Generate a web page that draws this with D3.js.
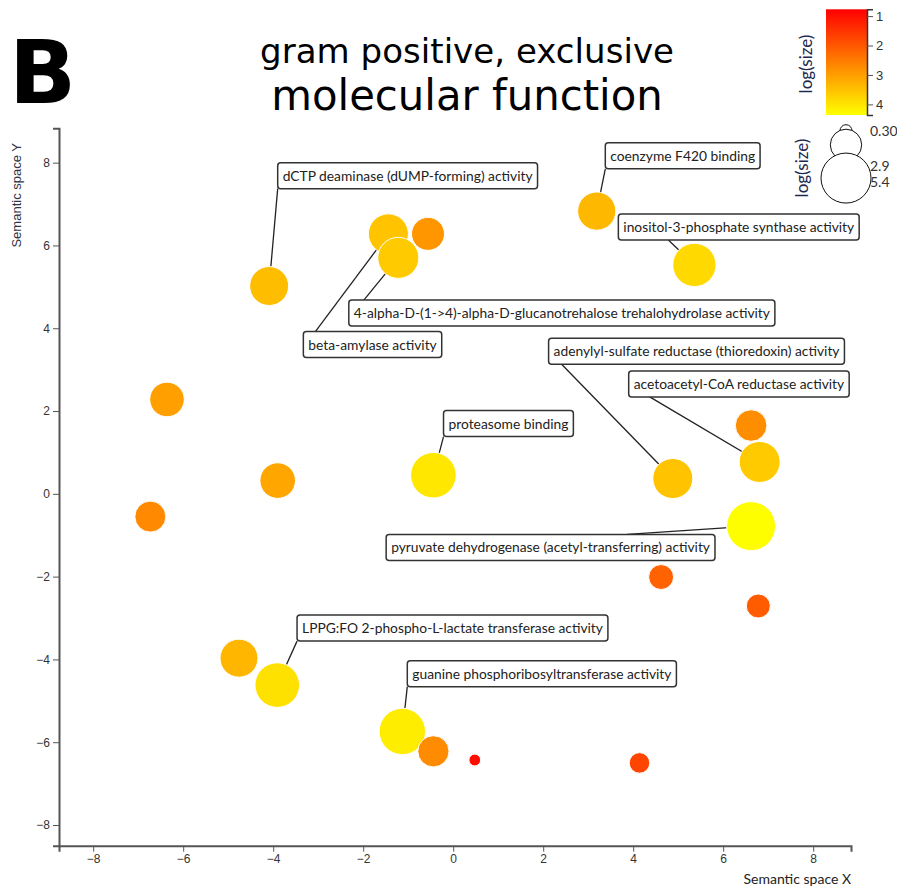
<!DOCTYPE html>
<html>
<head>
<meta charset="utf-8">
<script src="https://cdn.jsdelivr.net/npm/d3@7/dist/d3.min.js"></script>
<style>
  body { margin: 0; background: #fff; }
  .axis path, .axis line { stroke: #555; }
  .axis text { font-family: "Liberation Sans", Arial, sans-serif; font-size: 12px; fill: #333; }
</style>
</head>
<body>
<svg id="chart" width="897" height="887"></svg>
<script>
// DATA
const terms = [
  "dCTP deaminase (dUMP-forming) activity",
  "beta-amylase activity",
  null,
  "4-alpha-D-(1->4)-alpha-D-glucanotrehalose trehalohydrolase activity",
  "coenzyme F420 binding",
  "inositol-3-phosphate synthase activity",
  "adenylyl-sulfate reductase (thioredoxin) activity",
  null,
  "acetoacetyl-CoA reductase activity",
  "pyruvate dehydrogenase (acetyl-transferring) activity",
  "proteasome binding",
  null, null, null, null, null,
  "LPPG:FO 2-phospho-L-lactate transferase activity",
  null,
  "guanine phosphoribosyltransferase activity",
  null, null, null
];
const semX    = [-4.09, -1.44, -0.56, -1.22, 3.19, 5.36, 4.88, 6.62, 6.81, 6.62, -0.44, -6.36, -3.90, -6.73, 4.62, 6.78, -3.91, -4.76, -1.13, -0.44, 0.48, 4.14];
const semY    = [5.02, 6.28, 6.28, 5.70, 6.83, 5.53, 0.37, 1.65, 0.77, -0.78, 0.45, 2.28, 0.32, -0.55, -2.01, -2.71, -4.62, -3.97, -5.74, -6.22, -6.43, -6.50];
const logSize = [3.92, 4.06, 3.12, 4.20, 3.82, 4.50, 4.06, 2.93, 4.19, 5.27, 4.81, 3.33, 3.47, 2.85, 2.04, 1.91, 4.68, 3.79, 4.92, 2.88, 0.27, 1.45];

const axisTicks = [-8, -6, -4, -2, 0, 2, 4, 6, 8];
const colorTicks = [1, 2, 3, 4];
const sizeLegendValues = [0.3, 2.9, 5.4];
const sizeLegendText = ["0.30", "2.9", "5.4"];

// where the label boxes sit (data units) and where the leader line meets the box
const labelTerm = [
  "dCTP deaminase (dUMP-forming) activity",
  "beta-amylase activity",
  "4-alpha-D-(1->4)-alpha-D-glucanotrehalose trehalohydrolase activity",
  "coenzyme F420 binding",
  "inositol-3-phosphate synthase activity",
  "adenylyl-sulfate reductase (thioredoxin) activity",
  "acetoacetyl-CoA reductase activity",
  "pyruvate dehydrogenase (acetyl-transferring) activity",
  "proteasome binding",
  "LPPG:FO 2-phospho-L-lactate transferase activity",
  "guanine phosphoribosyltransferase activity"
];
const labelBoxX = [-3.90, -3.33, -2.32, 3.38, 3.67, 2.12, 3.90, -1.49, -0.215, -3.47, -1.02];
const labelBoxY = [8.00, 3.92, 4.68, 8.48, 6.76, 3.76, 2.97, -0.98, 2.01, -2.93, -4.03];
const anchorDx  = [0, 12, 15, 0, 50, 13, 21, 241, 0, 0, 0];
const anchorSide = ["bottom", "top", "top", "bottom", "bottom", "bottom", "bottom", "top", "bottom", "bottom", "bottom"];

// SVG + SCALES
const svg = d3.select('#chart');

const x = d3.scaleLinear().domain([-8.76, 8.84]).range([59, 851]);
const y = d3.scaleLinear().domain([-8.5, 8.83]).range([845.7, 128.3]);
const r = d3.scaleLinear().domain([0.3, 5.4]).range([6, 25]);
const color = d3.scaleLinear().domain([0, 5.3]).range(['#ff0000', '#ffff00']).clamp(true);

const points = semX.map((d, i) => ({ term: terms[i], x: semX[i], y: semY[i], v: logSize[i] }));

// TITLE
svg.append('text')
  .attr('x', 9).attr('y', 103)
  .style('font-family', '"DejaVu Sans", sans-serif')
  .style('font-weight', 'bold')
  .style('font-size', '88px')
  .text('B');

svg.append('text')
  .attr('x', 467).attr('y', 63)
  .attr('text-anchor', 'middle')
  .attr('textLength', 414)
  .attr('lengthAdjust', 'spacing')
  .style('font-family', '"DejaVu Sans", sans-serif')
  .style('font-size', '34px')
  .text('gram positive, exclusive');

svg.append('text')
  .attr('x', 467).attr('y', 110)
  .attr('text-anchor', 'middle')
  .style('font-family', '"DejaVu Sans", sans-serif')
  .style('font-size', '41.8px')
  .text('molecular function');

// AXES
svg.append('g')
  .attr('class', 'axis')
  .attr('transform', `translate(0, ${y.range()[0]})`)
  .call(d3.axisBottom(x).tickValues(axisTicks))
  .call(g => g.select('.domain').style('stroke-width', 2));

svg.append('g')
  .attr('class', 'axis')
  .attr('transform', `translate(${x.range()[0]}, 0)`)
  .call(d3.axisLeft(y).tickValues(axisTicks))
  .call(g => g.select('.domain').style('stroke-width', 2));

svg.append('text')
  .attr('x', 851).attr('y', 884)
  .attr('text-anchor', 'end')
  .style('font-family', 'Lato, sans-serif')
  .style('font-size', '14px')
  .style('fill', '#222')
  .text('Semantic space X');

svg.append('text')
  .attr('transform', 'translate(21, 143) rotate(-90)')
  .attr('text-anchor', 'end')
  .style('font-family', '"Liberation Sans", Arial, sans-serif')
  .style('font-size', '13px')
  .style('fill', '#334')
  .text('Semantic space Y');

// LABEL BOXES (measure first, lines go under the circles)
const labelFont = 'Lato, sans-serif';
const labelSize = '13.8px';
const boxH = 26;

const labels = labelTerm.map((t, i) => {
  const p = points.find(d => d.term === t);
  return { term: t, p: p, bx: x(labelBoxX[i]), by: y(labelBoxY[i]), adx: anchorDx[i], side: anchorSide[i] };
});

const lineLayer = svg.append('g');
const dotLayer = svg.append('g');
const boxLayer = svg.append('g');

labels.forEach(l => {
  const g = boxLayer.append('g').attr('transform', `translate(${l.bx}, ${l.by})`);
  const rect = g.append('rect');
  const txt = g.append('text')
    .attr('x', 5).attr('y', 18)
    .style('font-family', labelFont)
    .style('font-size', labelSize)
    .style('fill', '#222')
    .text(l.term);
  const w = txt.node().getComputedTextLength() + 10;
  rect.attr('width', w).attr('height', boxH)
    .attr('rx', 3).attr('ry', 3)
    .style('fill', 'white')
    .style('stroke', '#333')
    .style('stroke-width', 1.5);

  const ay = l.side === 'top' ? l.by : l.by + boxH;
  lineLayer.append('line')
    .attr('x1', x(l.p.x)).attr('y1', y(l.p.y))
    .attr('x2', l.bx + l.adx).attr('y2', ay)
    .style('stroke', '#222')
    .style('stroke-width', 1.3);
});

// DOTS
dotLayer.selectAll('circle')
  .data(points)
  .enter()
  .append('circle')
  .attr('cx', d => x(d.x))
  .attr('cy', d => y(d.y))
  .attr('r', d => r(d.v))
  .style('fill', d => color(d.v))
  .style('stroke', 'white')
  .style('stroke-width', 1);

// COLOR LEGEND
const defs = svg.append('defs');
const grad = defs.append('linearGradient')
  .attr('id', 'cbar').attr('x1', 0).attr('x2', 0).attr('y1', 0).attr('y2', 1);
grad.append('stop').attr('offset', '0%').attr('stop-color', '#ff0000');
grad.append('stop').attr('offset', '100%').attr('stop-color', '#ffff00');

const cbarScale = d3.scaleLinear().domain([0.77, 4.36]).range([9.3, 115]);

svg.append('rect')
  .attr('x', 826).attr('y', cbarScale.range()[0])
  .attr('width', 41).attr('height', cbarScale.range()[1] - cbarScale.range()[0])
  .style('fill', 'url(#cbar)');

svg.append('g')
  .attr('class', 'axis')
  .attr('transform', 'translate(867, 0)')
  .call(d3.axisRight(cbarScale).tickValues(colorTicks).tickFormat(d3.format('d')))
  .call(g => g.select('.domain').style('stroke', '#333').style('stroke-width', 1.5))
  .call(g => g.selectAll('text').style('font-size', '13px'));

svg.append('text')
  .attr('transform', 'translate(812, 64) rotate(-90)')
  .attr('text-anchor', 'middle')
  .style('font-family', labelFont)
  .style('font-size', '17px')
  .style('fill', '#1c2a50')
  .text('log(size)');

// SIZE LEGEND
const legendCx = 846;
const sizeLabelY = [131, 166, 182.5]; // label rows as drawn in the original legend
let cy = 130.7;
const sizeItems = sizeLegendValues.map((v, i) => {
  if (i > 0) cy += r(sizeLegendValues[i - 1]) + r(v) - 7.5;
  return { v: v, cy: cy, ly: sizeLabelY[i], label: sizeLegendText[i] };
});

svg.append('g').selectAll('circle')
  .data(sizeItems)
  .enter()
  .append('circle')
  .attr('cx', legendCx)
  .attr('cy', d => d.cy)
  .attr('r', d => r(d.v))
  .style('fill', 'white')
  .style('stroke', '#111')
  .style('stroke-width', 1);

svg.append('g').selectAll('text')
  .data(sizeItems)
  .enter()
  .append('text')
  .attr('x', 870)
  .attr('y', d => d.ly)
  .attr('dy', '0.35em')
  .style('font-family', labelFont)
  .style('font-size', '14px')
  .style('fill', '#333')
  .text(d => d.label);

svg.append('text')
  .attr('transform', 'translate(808, 168) rotate(-90)')
  .attr('text-anchor', 'middle')
  .style('font-family', labelFont)
  .style('font-size', '17px')
  .style('fill', '#1c2a50')
  .text('log(size)');
</script>
</body>
</html>
